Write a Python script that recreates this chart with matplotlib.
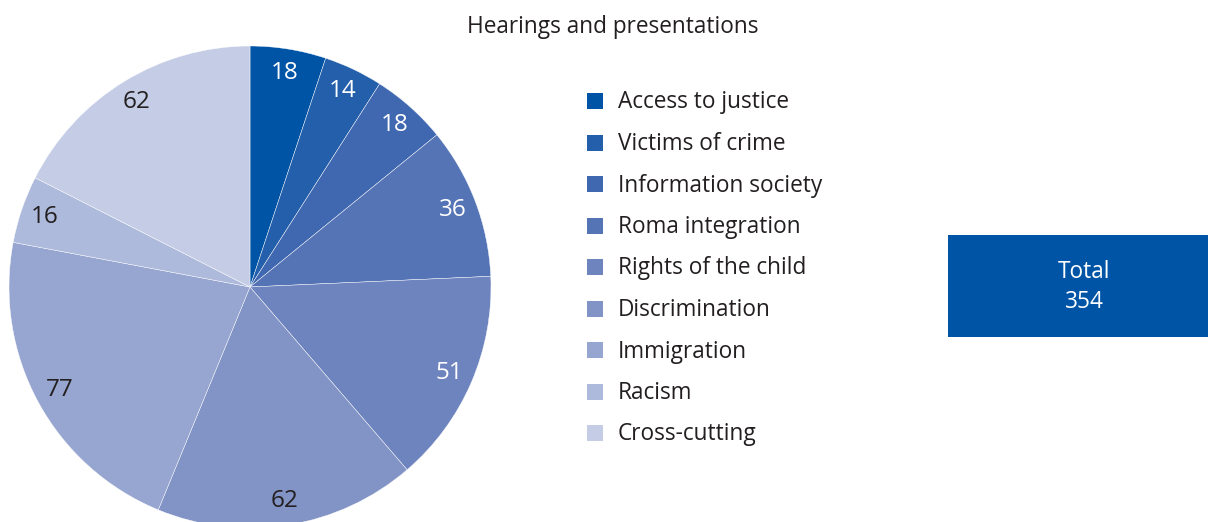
import matplotlib
matplotlib.use("Agg")
import matplotlib.pyplot as plt
from matplotlib.patches import Rectangle

plt.rcParams['font.family'] = ['Open Sans', 'DejaVu Sans']

# data
categories = ['Access to justice', 'Victims of crime', 'Information society',
              'Roma integration', 'Rights of the child', 'Discrimination',
              'Immigration', 'Racism', 'Cross-cutting']
counts = [18, 14, 18, 36, 51, 62, 77, 16, 62]
colors = ['#0054A6', '#235FAA', '#3F68B0', '#5574B6', '#6E84BF',
          '#8294C6', '#97A6D0', '#AEBADB', '#C5CDE6']
label_colors = ['white'] * 5 + ['#231F20'] * 4
title = 'Hearings and presentations'
total = sum(counts)

W, H = 1208, 522
fig = plt.figure(figsize=(W / 100, H / 100), dpi=100)

# pie axes, placed in pixels: centre (250, 287), radius 241
cx, cy, r = 250, 287, 241
ax = fig.add_axes([(cx - r) / W, (H - cy - r) / H, 2 * r / W, 2 * r / H])
wedges, texts = ax.pie(counts, colors=colors, startangle=90, counterclock=False,
                       labels=[str(c) for c in counts], labeldistance=0.9,
                       wedgeprops=dict(linewidth=0.3, edgecolor='white'),
                       textprops=dict(fontsize=17.5))
for t, c in zip(texts, label_colors):
    t.set_color(c)
    t.set_ha('center')
    t.set_va('center')
ax.set_xlim(-1, 1)
ax.set_ylim(-1, 1)
ax.set_aspect('auto')
ax.set_clip_on(False)

# overlay for title, legend and total box (pixel coords)
ov = fig.add_axes([0, 0, 1, 1], zorder=-1)
ov.set_xlim(0, W)
ov.set_ylim(H, 0)
ov.axis('off')

ov.text(613, 27, title, fontsize=16.3, ha='center', va='center', color='#231F20')

for i, (name, col) in enumerate(zip(categories, colors)):
    y = 101 + i * 41.5
    ov.add_patch(Rectangle((587, y - 8), 16, 16, color=col, linewidth=0))
    ov.text(618, y + 1.5, name, fontsize=16.3, va='center', ha='left', color='#231F20')

ov.add_patch(Rectangle((948, 235), W - 948, 102, color='#0054A6', linewidth=0))
ov.text(1084, 272, 'Total', fontsize=16.3, ha='center', va='center', color='white')
ov.text(1084, 302, str(total), fontsize=16.3, ha='center', va='center', color='white')

fig.savefig('out.png', dpi=100)
